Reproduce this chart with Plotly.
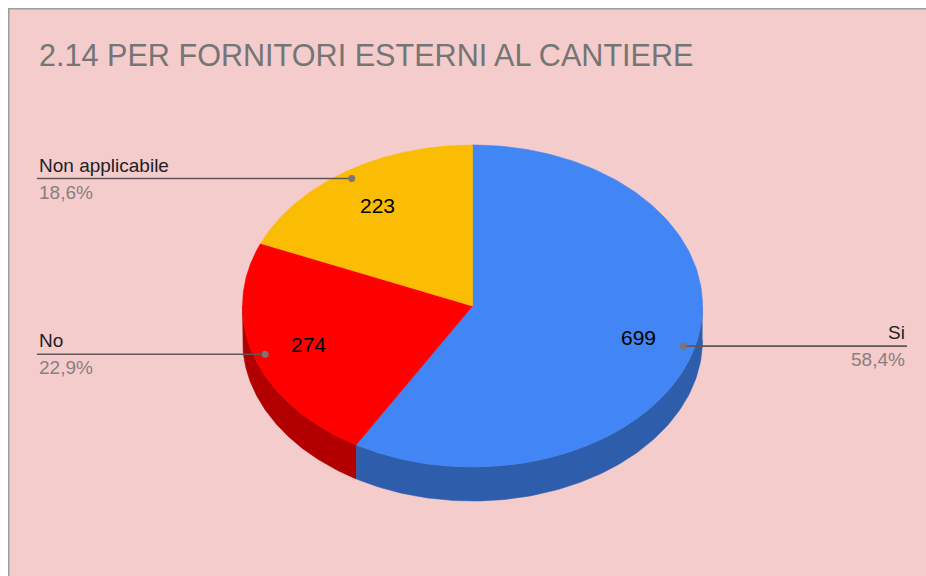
import numpy as np
import plotly.graph_objects as go

# ---- data ----
categories = ["Si", "No", "Non applicabile"]
values = [699, 274, 223]
title_text = "2.14 PER FORNITORI ESTERNI AL CANTIERE"

# ---- style ----
top_colors = ["#4285f4", "#ff0000", "#fbbc04"]
side_colors = ["#2e5dab", "#b20000", "#b08403"]
W, H = 926, 576
CX, CY, RX, RY, DEPTH = 472.5, 306.0, 230.0, 161.0, 34.0
LEFT_END, RIGHT_END = 37, 907
FONT = "Liberation Sans, Arial, sans-serif"

total = sum(values)
fractions = [v / total for v in values]
percent_labels = [f"{f*100:.1f}%".replace(".", ",") for f in fractions]
starts = np.concatenate([[0], np.cumsum(fractions)[:-1]]) * 360
ends = np.cumsum(fractions) * 360


def pt(theta_deg, r=1.0):
    t = np.radians(theta_deg)
    return CX + r * RX * np.sin(t), CY - r * RY * np.cos(t)


fig = go.Figure()

# sides (front half only)
for a, b, c in zip(starts, ends, side_colors):
    lo, hi = max(a, 90), min(b, 270)
    if hi <= lo:
        continue
    th = np.linspace(lo, hi, 120)
    xt, yt = pt(th)
    xs = np.concatenate([xt, xt[::-1]])
    ys = np.concatenate([yt, (yt + DEPTH)[::-1]])
    fig.add_trace(go.Scatter(x=xs, y=ys, fill="toself", fillcolor=c, mode="lines",
                             line=dict(color=c, width=0.6), hoverinfo="skip",
                             showlegend=False))

# tops
for a, b, c in zip(starts, ends, top_colors):
    th = np.linspace(a, b, 200)
    xt, yt = pt(th)
    xs = np.concatenate([[CX], xt, [CX]])
    ys = np.concatenate([[CY], yt, [CY]])
    fig.add_trace(go.Scatter(x=xs, y=ys, fill="toself", fillcolor=c, mode="lines",
                             line=dict(color=c, width=0.6), hoverinfo="skip",
                             showlegend=False))

annotations = []
# value labels and leaders
for cat, v, pct, a, b in zip(categories, values, percent_labels, starts, ends):
    mid = (a + b) / 2
    lx, ly = pt(mid, 0.75)
    annotations.append(dict(x=lx, y=ly, text=str(v), showarrow=False,
                            font=dict(family=FONT, size=21, color="#000000"),
                            xanchor="center", yanchor="middle"))
    dx, dy = pt(mid, 0.95)
    right = dx > CX
    ex = RIGHT_END if right else LEFT_END
    fig.add_trace(go.Scatter(x=[dx, ex], y=[dy, dy], mode="lines",
                             line=dict(color="#5f5757", width=1.6),
                             hoverinfo="skip", showlegend=False))
    fig.add_trace(go.Scatter(x=[dx], y=[dy], mode="markers",
                             marker=dict(color="#7f7373", size=7),
                             hoverinfo="skip", showlegend=False))
    anchor = "right" if right else "left"
    annotations.append(dict(x=ex, y=dy - 1, text=cat, showarrow=False,
                            font=dict(family=FONT, size=19, color="#222222"),
                            xanchor=anchor, yanchor="bottom"))
    annotations.append(dict(x=ex, y=dy + 1, text=pct, showarrow=False,
                            font=dict(family=FONT, size=19, color="#8a7f80"),
                            xanchor=anchor, yanchor="top"))

annotations.append(dict(x=37, y=55, text=title_text, showarrow=False,
                        font=dict(family=FONT, size=30.6, color="#757575"),
                        xanchor="left", yanchor="middle"))

fig.update_layout(
    width=W, height=H, margin=dict(l=0, r=0, t=0, b=0),
    paper_bgcolor="#ffffff", plot_bgcolor="rgba(0,0,0,0)",
    xaxis=dict(range=[0, W], visible=False, fixedrange=True),
    yaxis=dict(range=[H, 0], visible=False, fixedrange=True),
    annotations=annotations,
    shapes=[
        dict(type="rect", xref="x", yref="y", x0=8, y0=8, x1=W, y1=H,
             fillcolor="#f4cccc", line=dict(width=0), layer="below"),
        dict(type="line", xref="x", yref="y", x0=8.75, y0=8, x1=8.75, y1=H,
             line=dict(color="#9e9e9e", width=1.5), layer="below"),
        dict(type="line", xref="x", yref="y", x0=8, y0=8.75, x1=W, y1=8.75,
             line=dict(color="#9e9e9e", width=1.5), layer="below"),
    ],
    showlegend=False,
)

fig.write_html("out.html", config={"displayModeBar": False})

# remove the default page margin so the figure sits at the window origin
with open("out.html", "r", encoding="utf-8") as f:
    html = f.read()
html = html.replace("<body>", '<body style="margin:0;padding:0;overflow:hidden;">', 1)
with open("out.html", "w", encoding="utf-8") as f:
    f.write(html)
